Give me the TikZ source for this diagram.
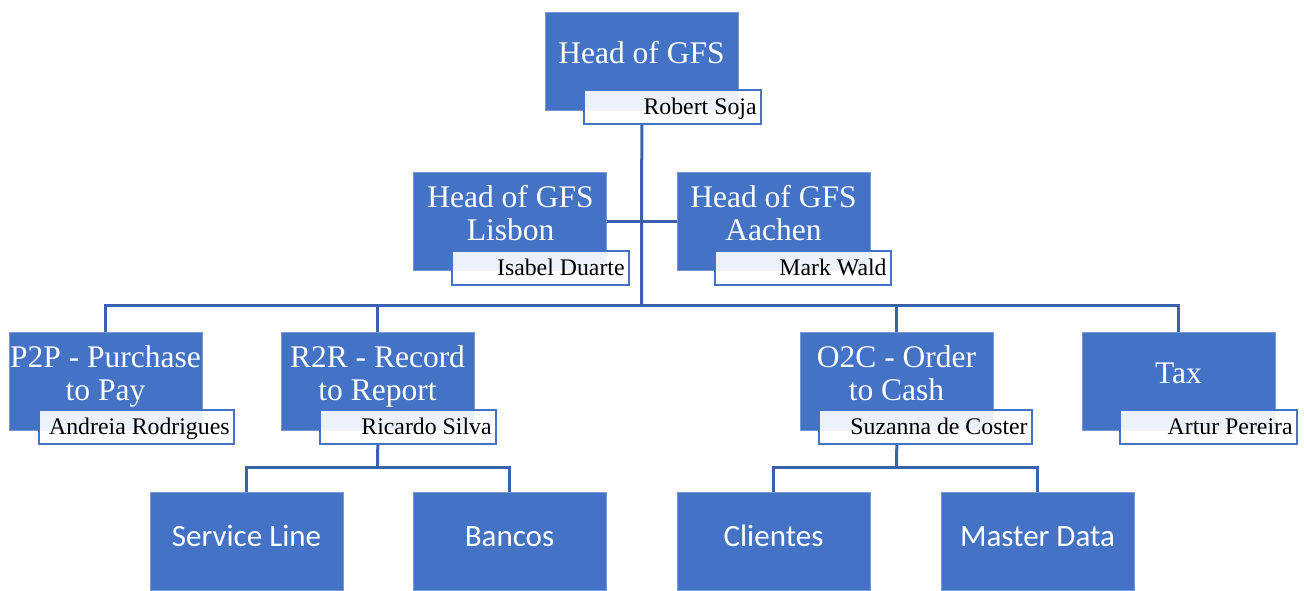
\documentclass[tikz,border=0pt]{standalone}
\usepackage{fontspec}
\setmainfont{Liberation Serif}
\newfontfamily\calibri{Carlito}
\usetikzlibrary{backgrounds}
\definecolor{boxblue}{HTML}{4472C4}
\definecolor{lineblue}{HTML}{3A62AA}
\definecolor{edgeblue}{HTML}{7A98D4}
\begin{document}
\begin{tikzpicture}[x=1pt,y=-1pt,
 bluebox/.style={draw=edgeblue, line width=0.6pt, fill=boxblue, minimum width=193pt, minimum height=98pt, inner sep=0pt, anchor=north west},
 namebox/.style={draw=boxblue, line width=1.8pt, fill=white, fill opacity=0.9, text opacity=1, minimum height=34pt, inner sep=0pt, anchor=north west},
 titletext/.style={text=white, font=\fontsize{31.5}{32.5}\selectfont, anchor=base, align=center, inner sep=0pt},
 nametext/.style={font=\fontsize{23.8}{26}\selectfont, anchor=base east, inner sep=0pt},
 subtext/.style={text=white, font=\calibri\fontsize{31}{36}\selectfont, anchor=base, inner sep=0pt},
 conn/.style={draw=lineblue, line width=3pt}]
\useasboundingbox (0,0) rectangle (1304,590);

% level 1
\node[bluebox] (head) at (545,12) {};
\node[namebox, minimum width=177pt] (hn) at (583,89) {};
% level 2
\node[bluebox] (lis) at (413,172) {};
\node[namebox, minimum width=177pt] (ln) at (451,250) {};
\node[bluebox] (aac) at (677,172) {};
\node[namebox, minimum width=176pt] (an) at (714,250) {};
% level 3
\node[bluebox] (p2p) at (9,332) {};
\node[namebox, minimum width=195pt] (pn) at (38,409) {};
\node[bluebox] (r2r) at (281,332) {};
\node[namebox, minimum width=176pt] (rn) at (319,409) {};
\node[bluebox] (o2c) at (800,332) {};
\node[namebox, minimum width=213pt] (on) at (818,409) {};
\node[bluebox] (tax) at (1082,332) {};
\node[namebox, minimum width=177pt] (tn) at (1119,409) {};
% level 4
\node[bluebox] (svc) at (150,492) {};
\node[bluebox] (ban) at (413,492) {};
\node[bluebox] (cli) at (677,492) {};
\node[bluebox] (mda) at (941,492) {};

% titles (anchor base = baseline of last line)
\node[titletext] (headT) at (641.5,63) {Head of GFS};
\node[titletext] (lisT) at (510.5,240) {Head of GFS\\Lisbon};
\node[titletext] (aacT) at (773.5,240) {Head of GFS\\Aachen};
\node[titletext] (p2pT) at (105.5,400) {P2P - Purchase\\to Pay};
\node[titletext] (r2rT) at (377.5,400) {R2R - Record\\to Report};
\node[titletext] (o2cT) at (896.5,400) {O2C - Order\\to Cash};
\node[titletext] (taxT) at (1178.5,383) {Tax};
% names
\node[nametext] (hnT) at ([xshift=-5pt,yshift=10.5pt]hn.south east) {Robert Soja};
\node[nametext] (lnT) at ([xshift=-5pt,yshift=10.5pt]ln.south east) {Isabel Duarte};
\node[nametext] (anT) at ([xshift=-5pt,yshift=10.5pt]an.south east) {Mark Wald};
\node[nametext] (pnT) at ([xshift=-5pt,yshift=10.5pt]pn.south east) {Andreia Rodrigues};
\node[nametext] (rnT) at ([xshift=-5pt,yshift=10.5pt]rn.south east) {Ricardo Silva};
\node[nametext] (onT) at ([xshift=-5pt,yshift=10.5pt]on.south east) {Suzanna de Coster};
\node[nametext] (tnT) at ([xshift=-5pt,yshift=10.5pt]tn.south east) {Artur Pereira};
% sub texts
\node[subtext] (svcT) at (246.5,546) {Service Line};
\node[subtext] (banT) at (509.5,546) {Bancos};
\node[subtext] (cliT) at (773.5,546) {Clientes};
\node[subtext] (mdaT) at (1037.5,546) {Master Data};

\coordinate (bus1) at (641.5,305);
\coordinate (bus2) at (377.5,467);
\coordinate (bus3) at (896.5,467);
\begin{pgfonlayer}{background}
\draw[conn] (head.south |- hn.south) -- (bus1);
\draw[conn] (lis.east) -- (aac.west);
\draw[conn] (p2p.north) |- (bus1) -| (tax.north);
\draw[conn] (r2r.north) -- (r2r.north |- bus1);
\draw[conn] (o2c.north) -- (o2c.north |- bus1);
\draw[conn] (r2r.south |- rn.south) -- (bus2);
\draw[conn] (svc.north) |- (bus2) -| (ban.north);
\draw[conn] (o2c.south |- on.south) -- (bus3);
\draw[conn] (cli.north) |- (bus3) -| (mda.north);
\end{pgfonlayer}
\end{tikzpicture}
\end{document}
